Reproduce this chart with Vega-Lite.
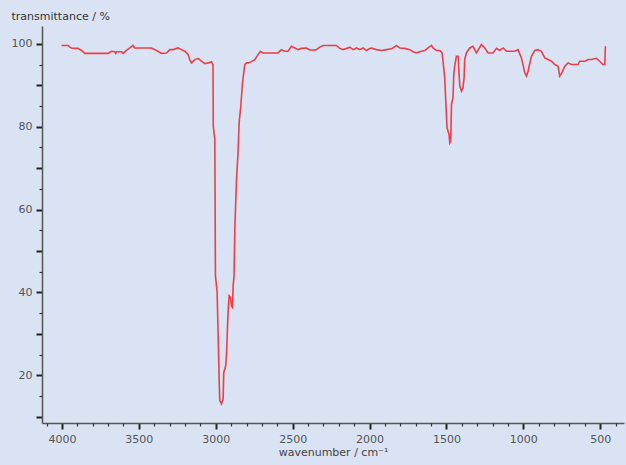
{
  "$schema": "https://vega.github.io/schema/vega-lite/v6.json",
  "width": 582,
  "height": 397,
  "autosize": {"type": "none"},
  "padding": {"left": 42, "top": 26, "right": 2, "bottom": 42},
  "background": "#dae3f3",
  "config": {"view": {"stroke": null}, "font": "DejaVu Sans"},
  "data": {"values": [
    {"wn": 4003, "T": 99.6}, {"wn": 3960, "T": 99.6}, {"wn": 3949, "T": 99.2}, {"wn": 3938, "T": 99.0},
    {"wn": 3917, "T": 98.9}, {"wn": 3895, "T": 98.9}, {"wn": 3873, "T": 98.4}, {"wn": 3852, "T": 97.7},
    {"wn": 3700, "T": 97.7}, {"wn": 3678, "T": 98.2}, {"wn": 3657, "T": 98.1}, {"wn": 3650, "T": 97.7},
    {"wn": 3644, "T": 98.1}, {"wn": 3613, "T": 98.1}, {"wn": 3603, "T": 97.7}, {"wn": 3581, "T": 98.4},
    {"wn": 3559, "T": 99.0}, {"wn": 3538, "T": 99.6}, {"wn": 3527, "T": 99.0}, {"wn": 3494, "T": 99.0},
    {"wn": 3418, "T": 99.0}, {"wn": 3385, "T": 98.4}, {"wn": 3353, "T": 97.7}, {"wn": 3320, "T": 97.8},
    {"wn": 3299, "T": 98.6}, {"wn": 3277, "T": 98.6}, {"wn": 3245, "T": 99.0}, {"wn": 3223, "T": 98.6},
    {"wn": 3201, "T": 98.2}, {"wn": 3180, "T": 97.4}, {"wn": 3169, "T": 96.2}, {"wn": 3158, "T": 95.4},
    {"wn": 3136, "T": 96.2}, {"wn": 3115, "T": 96.5}, {"wn": 3093, "T": 95.8}, {"wn": 3071, "T": 95.2},
    {"wn": 3050, "T": 95.4}, {"wn": 3028, "T": 95.7}, {"wn": 3018, "T": 95.0}, {"wn": 3016, "T": 80.1},
    {"wn": 3006, "T": 76.9}, {"wn": 3002, "T": 44.0}, {"wn": 2991, "T": 40.0}, {"wn": 2978, "T": 19.1},
    {"wn": 2974, "T": 13.9}, {"wn": 2963, "T": 13.1}, {"wn": 2952, "T": 14.3}, {"wn": 2948, "T": 20.7},
    {"wn": 2935, "T": 22.3}, {"wn": 2930, "T": 25.1}, {"wn": 2920, "T": 35.2}, {"wn": 2913, "T": 39.2},
    {"wn": 2904, "T": 38.8}, {"wn": 2898, "T": 36.8}, {"wn": 2891, "T": 36.4}, {"wn": 2887, "T": 41.6},
    {"wn": 2881, "T": 44.0}, {"wn": 2876, "T": 55.3}, {"wn": 2865, "T": 67.3}, {"wn": 2855, "T": 73.7},
    {"wn": 2848, "T": 81.0}, {"wn": 2837, "T": 85.0}, {"wn": 2826, "T": 90.6}, {"wn": 2811, "T": 95.0},
    {"wn": 2800, "T": 95.4}, {"wn": 2790, "T": 95.4}, {"wn": 2768, "T": 95.7}, {"wn": 2746, "T": 96.2},
    {"wn": 2725, "T": 97.4}, {"wn": 2709, "T": 98.2}, {"wn": 2692, "T": 97.8}, {"wn": 2649, "T": 97.8},
    {"wn": 2595, "T": 97.8}, {"wn": 2573, "T": 98.6}, {"wn": 2551, "T": 98.2}, {"wn": 2530, "T": 98.2},
    {"wn": 2508, "T": 99.4}, {"wn": 2486, "T": 99.0}, {"wn": 2465, "T": 98.6}, {"wn": 2443, "T": 98.9},
    {"wn": 2410, "T": 99.0}, {"wn": 2389, "T": 98.5}, {"wn": 2367, "T": 98.5}, {"wn": 2345, "T": 98.6},
    {"wn": 2324, "T": 99.2}, {"wn": 2302, "T": 99.6}, {"wn": 2215, "T": 99.6}, {"wn": 2193, "T": 98.9},
    {"wn": 2172, "T": 98.6}, {"wn": 2150, "T": 98.9}, {"wn": 2128, "T": 99.2}, {"wn": 2107, "T": 98.6},
    {"wn": 2085, "T": 99.0}, {"wn": 2063, "T": 98.6}, {"wn": 2042, "T": 99.0}, {"wn": 2020, "T": 98.4},
    {"wn": 1998, "T": 98.9}, {"wn": 1987, "T": 99.0}, {"wn": 1955, "T": 98.6}, {"wn": 1922, "T": 98.4},
    {"wn": 1890, "T": 98.6}, {"wn": 1857, "T": 98.8}, {"wn": 1825, "T": 99.6}, {"wn": 1803, "T": 99.0},
    {"wn": 1771, "T": 98.9}, {"wn": 1738, "T": 98.6}, {"wn": 1717, "T": 98.1}, {"wn": 1695, "T": 97.8},
    {"wn": 1673, "T": 98.1}, {"wn": 1640, "T": 98.4}, {"wn": 1619, "T": 99.0}, {"wn": 1597, "T": 99.6},
    {"wn": 1587, "T": 99.0}, {"wn": 1565, "T": 98.4}, {"wn": 1543, "T": 98.4}, {"wn": 1528, "T": 97.8},
    {"wn": 1522, "T": 95.8}, {"wn": 1511, "T": 91.8}, {"wn": 1504, "T": 86.2}, {"wn": 1496, "T": 79.8},
    {"wn": 1483, "T": 78.1}, {"wn": 1478, "T": 76.1}, {"wn": 1472, "T": 76.5}, {"wn": 1467, "T": 85.4},
    {"wn": 1457, "T": 87.0}, {"wn": 1452, "T": 92.6}, {"wn": 1446, "T": 94.6}, {"wn": 1435, "T": 97.0},
    {"wn": 1424, "T": 97.0}, {"wn": 1420, "T": 94.2}, {"wn": 1413, "T": 89.8}, {"wn": 1402, "T": 88.6},
    {"wn": 1392, "T": 89.4}, {"wn": 1385, "T": 91.8}, {"wn": 1381, "T": 96.2}, {"wn": 1370, "T": 97.8},
    {"wn": 1348, "T": 99.0}, {"wn": 1327, "T": 99.4}, {"wn": 1305, "T": 97.8}, {"wn": 1272, "T": 99.8},
    {"wn": 1250, "T": 99.0}, {"wn": 1229, "T": 97.8}, {"wn": 1197, "T": 97.8}, {"wn": 1174, "T": 98.9},
    {"wn": 1153, "T": 98.4}, {"wn": 1131, "T": 99.0}, {"wn": 1109, "T": 98.2}, {"wn": 1055, "T": 98.2},
    {"wn": 1034, "T": 98.6}, {"wn": 1012, "T": 96.6}, {"wn": 990, "T": 93.0}, {"wn": 979, "T": 92.2},
    {"wn": 969, "T": 93.4}, {"wn": 947, "T": 97.0}, {"wn": 925, "T": 98.4}, {"wn": 904, "T": 98.6},
    {"wn": 882, "T": 98.2}, {"wn": 860, "T": 96.6}, {"wn": 839, "T": 96.2}, {"wn": 817, "T": 95.8},
    {"wn": 795, "T": 95.0}, {"wn": 774, "T": 94.6}, {"wn": 763, "T": 92.2}, {"wn": 752, "T": 92.8},
    {"wn": 730, "T": 94.6}, {"wn": 709, "T": 95.4}, {"wn": 687, "T": 95.0}, {"wn": 644, "T": 95.0},
    {"wn": 633, "T": 95.8}, {"wn": 600, "T": 95.8}, {"wn": 579, "T": 96.2}, {"wn": 557, "T": 96.2},
    {"wn": 524, "T": 96.5}, {"wn": 503, "T": 95.8}, {"wn": 482, "T": 95.0}, {"wn": 470, "T": 95.0},
    {"wn": 466, "T": 99.4}
  ]},
  "layer": [
    {
      "mark": {"type": "line", "color": "#ef3d47", "strokeWidth": 1.6, "interpolate": "linear"},
      "encoding": {
        "x": {
          "field": "wn", "type": "quantitative",
          "scale": {"domain": [4130, 345], "nice": false, "zero": false},
          "axis": {
            "values": [4000, 3500, 3000, 2500, 2000, 1500, 1000, 500],
            "format": "d",
            "grid": false, "tickSize": 6, "tickWidth": 2, "tickColor": "#222",
            "domainColor": "#555", "domainWidth": 1.5,
            "labelColor": "#555", "labelFontSize": 11, "labelPadding": 4,
            "title": "wavenumber / cm⁻¹", "titleFontSize": 11, "titleFontWeight": "normal",
            "titleColor": "#444", "titlePadding": 2
          }
        },
        "y": {
          "field": "T", "type": "quantitative",
          "scale": {"domain": [8.5, 104.3], "nice": false, "zero": false},
          "axis": {
            "values": [10, 20, 30, 40, 50, 60, 70, 80, 90, 100],
            "labelExpr": "datum.value % 20 == 0 ? datum.label : ''",
            "grid": false, "tickSize": 6, "tickWidth": 2, "tickColor": "#222",
            "domainColor": "#555", "domainWidth": 1.5,
            "labelColor": "#555", "labelFontSize": 11, "labelPadding": 4,
            "title": "transmittance / %", "titleFontSize": 11, "titleFontWeight": "normal",
            "titleColor": "#333", "titleAngle": 0, "titleAlign": "left", "titleBaseline": "middle",
            "titleX": -31, "titleY": -10
          }
        }
      }
    },
    {
      "mark": {"type": "line", "opacity": 0},
      "encoding": {
        "x": {
          "field": "wn", "type": "quantitative",
          "axis": {
            "orient": "bottom",
            "values": [4100, 3900, 3800, 3700, 3600, 3400, 3300, 3200, 3100, 2900, 2800, 2700, 2600, 2400, 2300, 2200, 2100, 1900, 1800, 1700, 1600, 1400, 1300, 1200, 1100, 900, 800, 700, 600, 400],
            "grid": false, "tickSize": 3, "tickWidth": 1.2, "tickColor": "#333",
            "domain": false, "labels": false, "title": null
          }
        },
        "y": {
          "field": "T", "type": "quantitative",
          "axis": {
            "orient": "left",
            "values": [15, 25, 35, 45, 55, 65, 75, 85, 95],
            "grid": false, "tickSize": 3, "tickWidth": 1.2, "tickColor": "#333",
            "domain": false, "labels": false, "title": null
          }
        }
      }
    }
  ],
  "resolve": {"axis": {"x": "independent", "y": "independent"}}
}
